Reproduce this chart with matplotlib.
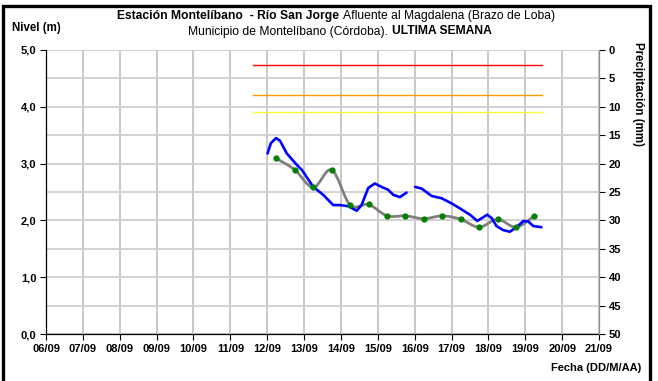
import numpy as np
import matplotlib
matplotlib.use("Agg")
import matplotlib.pyplot as plt
from matplotlib.path import Path
from matplotlib.patches import PathPatch, Rectangle

plt.rcParams['font.family'] = ['Liberation Sans', 'DejaVu Sans']

# ---- data -------------------------------------------------------------
# x positions are days of September (fractional)
tick_days = list(range(6, 22))
tick_labels = ["%02d/09" % d for d in tick_days]

# continuous water level (sensor), gap on the 15th/16th
nivel_dias = [12.01, 12.10, 12.24, 12.35, 12.53, 12.80, 12.94, 13.25, 13.52, 13.79,
              13.97, 14.20, 14.43, 14.56, 14.74, 14.92, 15.10, 15.28, 15.42, 15.60,
              15.78, np.nan, 16.01, 16.19, 16.46, 16.73, 17.00, 17.23, 17.50, 17.70,
              17.82, 17.97, 18.09, 18.22, 18.40, 18.58, 18.76, 18.95, 19.08, 19.22,
              19.44]
nivel_m = [3.18, 3.36, 3.45, 3.40, 3.18, 2.98, 2.89, 2.59, 2.45, 2.27,
           2.27, 2.25, 2.17, 2.27, 2.57, 2.65, 2.59, 2.54, 2.45, 2.41,
           2.49, np.nan, 2.59, 2.56, 2.43, 2.39, 2.30, 2.21, 2.10, 1.99,
           2.04, 2.10, 2.04, 1.90, 1.83, 1.80, 1.88, 1.99, 1.98, 1.90,
           1.88]

# manual readings (06:00 and 18:00)
lectura_dias = [12.25, 12.75, 13.25, 13.75, 14.25, 14.75, 15.25, 15.75,
                16.25, 16.75, 17.25, 17.75, 18.25, 18.75, 19.25]
lectura_m = [3.09, 2.89, 2.58, 2.89, 2.27, 2.28, 2.08, 2.08,
             2.03, 2.08, 2.02, 1.88, 2.02, 1.88, 2.08]

# alert thresholds (m)
umbral_niveles = [4.73, 4.20, 3.90]
umbral_colores = ['#ff0000', '#ff9900', '#ffff33']
umbral_inicio, umbral_fin = 11.61, 19.45


def smooth_path(xs, ys):
    """Cubic Bezier path through the points (Catmull-Rom style)."""
    p = np.column_stack([xs, ys])
    verts = [p[0]]
    codes = [Path.MOVETO]
    n = len(p)
    for i in range(n - 1):
        p0 = p[i - 1] if i > 0 else p[i]
        p1, p2 = p[i], p[i + 1]
        p3 = p[i + 2] if i + 2 < n else p[i + 1]
        c1 = p1 + (p2 - p0) / 6.0
        c2 = p2 - (p3 - p1) / 6.0
        verts += [c1, c2, p2]
        codes += [Path.CURVE4] * 3
    return Path(verts, codes)


W, H = 658, 381
FS = 8.0
fig = plt.figure(figsize=(W / 100, H / 100), dpi=100)
L, R, T, B = 46, 599, 50, 334
ax = fig.add_axes([L / W, 1 - B / H, (R - L) / W, (B - T) / H])

ax.set_xlim(6, 21)
ax.set_ylim(0, 5)

# grid
ax.set_yticks(np.arange(0, 5.01, 1.0))
ax.set_yticks(np.arange(0, 5.01, 0.5), minor=True)
ax.set_yticklabels([("%.1f" % v).replace('.', ',') for v in np.arange(0, 5.01, 1.0)])
ax.set_xticks(tick_days)
ax.set_xticklabels(tick_labels)
ax.grid(True, which='both', axis='y', color='#cfcfcf', lw=1.3)
ax.grid(True, which='major', axis='x', color='#c4c4c4', lw=1.3)
ax.set_axisbelow(True)
ax.tick_params(axis='y', which='minor', length=0)
ax.tick_params(axis='both', which='major', direction='out', length=4, width=0.8,
               labelsize=FS, pad=3)
for lab in ax.get_xticklabels() + ax.get_yticklabels():
    lab.set_fontweight('bold')

for s in ['top', 'right']:
    ax.spines[s].set_visible(False)
for s in ['left', 'bottom']:
    ax.spines[s].set_color('black')
    ax.spines[s].set_linewidth(0.9)

# thresholds
for lvl, col in zip(umbral_niveles, umbral_colores):
    ax.plot([umbral_inicio, umbral_fin], [lvl, lvl], color=col, lw=1.0, zorder=3)

# manual readings: smoothed grey line with green markers
ax.add_patch(PathPatch(smooth_path(lectura_dias, lectura_m), fill=False,
                       edgecolor='#808080', lw=2.0, zorder=4))
ax.plot(lectura_dias, lectura_m, ls='none', marker='o', ms=3.5,
        color='#008000', zorder=6)

# sensor level
ax.plot(nivel_dias, nivel_m, color='#0000ff', lw=1.9, zorder=5,
        solid_joinstyle='round', solid_capstyle='round')

# secondary axis: precipitation (inverted)
ax2 = ax.twinx()
ax2.set_ylim(50, 0)
ax2.set_yticks(np.arange(0, 51, 5))
ax2.tick_params(axis='y', direction='out', length=4, width=0.8, labelsize=FS,
                pad=3, colors='black')
for lab in ax2.get_yticklabels():
    lab.set_fontweight('bold')
for s in ['top', 'left', 'bottom']:
    ax2.spines[s].set_visible(False)
ax2.spines['right'].set_color('#909090')
ax2.spines['right'].set_linewidth(0.9)

# texts
fig.text(12 / W, 1 - 28 / H, "Nivel (m)", fontsize=8.3, fontweight='bold',
         ha='left', va='center')
fig.text(638 / W, 1 - 42 / H, "Precipitación (mm)", fontsize=8.3,
         fontweight='bold', rotation=-90, ha='center', va='top')
fig.text(641 / W, 1 - 368 / H, "Fecha (DD/M/AA)", fontsize=FS,
         fontweight='bold', ha='right', va='center')

renderer = fig.canvas.get_renderer()


def mixed_line(parts, xc, y, size=8.7):
    arts = []
    for txt, wt in parts:
        arts.append(fig.text(0, y, txt, fontsize=size, fontweight=wt,
                             ha='left', va='center'))
    widths = [a.get_window_extent(renderer).width for a in arts]
    total = sum(widths)
    x = xc - total / 2
    for a, w in zip(arts, widths):
        a.set_x(x / W)
        x += w


mixed_line([("Estación Montelíbano  - Río San Jorge ", 'bold'),
            ("Afluente al Magdalena (Brazo de Loba)", 'normal')],
           336, 1 - 16 / H)
mixed_line([("Municipio de Montelíbano (Córdoba). ", 'normal'),
            ("ULTIMA SEMANA", 'bold')],
           340, 1 - 31.5 / H)

# frame around the figure
fig.add_artist(Rectangle((3 / W, -0.02), (650 - 3) / W, 1 - 5.5 / H + 0.02,
                         transform=fig.transFigure, fill=False,
                         edgecolor='black', lw=2.4))

fig.savefig("out.png", dpi=100)
